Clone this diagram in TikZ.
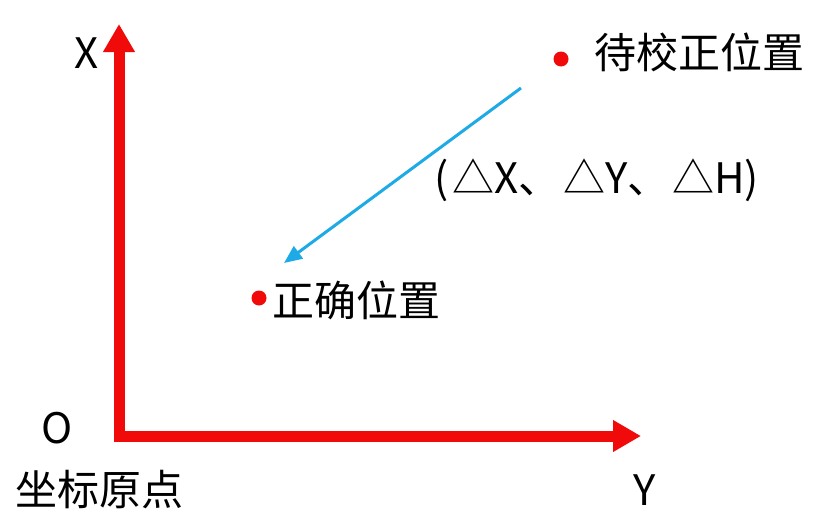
\documentclass[tikz,border=0pt]{standalone}
\usepackage{fontspec}
\setmainfont{Noto Sans CJK SC}
\usetikzlibrary{arrows.meta}
\definecolor{axisred}{RGB}{240,10,10}
\definecolor{moveblue}{RGB}{30,170,230}
\begin{document}
\begin{tikzpicture}[x=1pt,y=-1pt,
    every node/.style={font=\fontsize{42}{46}\selectfont, inner sep=0pt},
    axis/.style={draw=axisred, line width=11pt, line join=miter,
      {Triangle[length=28pt,width=30pt]}-{Triangle[length=28pt,width=30pt]}},
    movearrow/.style={draw=moveblue, line width=3pt, -{Triangle[length=18pt,width=15pt]}},
    spot/.style={circle, fill=axisred, minimum size=15pt}]
    \useasboundingbox (0,0) rectangle (820,530);
    \coordinate (origin) at (119,436);
    \coordinate (xtip) at (119,24);
    \coordinate (ytip) at (641,436);
    \draw[axis] (xtip) -- (origin) -- (ytip);
    \node (xlabel) at (87,53) {X};
    \node (olabel) at (57,428) {O};
    \node (ylabel) at (645,490) {Y};
    \node (originlabel) at (100,490) {坐标原点};
    \node[spot] (wrong) at (561,59) {};
    \node[anchor=west] (wronglabel) at (594,52) {待校正位置};
    \node[spot] (right) at (259,298) {};
    \node[anchor=west] (rightlabel) at (272,300) {正确位置};
    \coordinate (movestart) at (521,88);
    \coordinate (moveend) at (284,263);
    \draw[movearrow] (movestart) -- (moveend);
    \node (delta) at (597,180) {(\hspace{3pt}△X、\hspace{3pt}△Y、\hspace{3pt}△H)};
\end{tikzpicture}
\end{document}
